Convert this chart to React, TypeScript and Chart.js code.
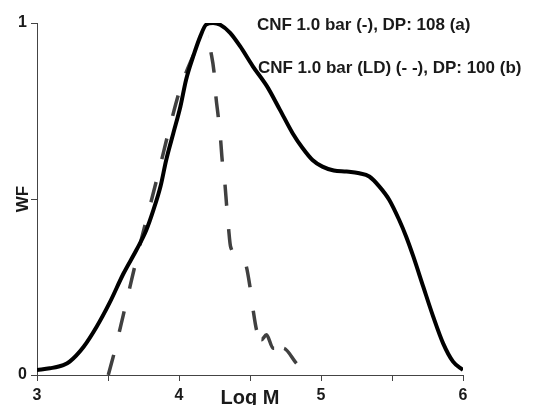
import React, { useEffect, useRef } from 'react';
import { Chart, registerables } from 'chart.js';

Chart.register(...registerables);

// Series (a): CNF 1.0 bar, solid line
const logMA = [3.0, 3.09, 3.185, 3.23, 3.33, 3.42, 3.51, 3.61, 3.7, 3.77, 3.82, 3.87, 3.91, 3.96, 4.01, 4.05, 4.1, 4.15, 4.19, 4.24, 4.29, 4.36, 4.43, 4.52, 4.62, 4.71, 4.8, 4.87, 4.94, 5.01, 5.09, 5.18, 5.27, 5.34, 5.41, 5.48, 5.55, 5.6, 5.65, 5.72, 5.79, 5.86, 5.93, 6.0];
const wfA = [0.014, 0.019, 0.028, 0.038, 0.081, 0.137, 0.204, 0.289, 0.355, 0.412, 0.469, 0.536, 0.611, 0.687, 0.763, 0.839, 0.905, 0.962, 0.995, 1.0, 0.995, 0.972, 0.934, 0.877, 0.82, 0.754, 0.687, 0.645, 0.611, 0.592, 0.581, 0.578, 0.573, 0.564, 0.536, 0.498, 0.441, 0.393, 0.337, 0.251, 0.166, 0.09, 0.038, 0.014];

// Series (b): CNF 1.0 bar (LD), dashed line
const logMB = [3.502, 3.549, 3.608, 3.666, 3.725, 3.795, 3.866, 3.936, 4.006, 4.077, 4.147, 4.206, 4.222, 4.246, 4.26, 4.276, 4.293, 4.304, 4.323, 4.335, 4.349, 4.363, 4.417, 4.471, 4.499, 4.522, 4.546, 4.581, 4.616, 4.663, 4.733, 4.827];
const wfB = [0.0, 0.071, 0.171, 0.27, 0.37, 0.479, 0.592, 0.706, 0.81, 0.886, 0.943, 0.962, 0.924, 0.863, 0.791, 0.735, 0.668, 0.611, 0.545, 0.483, 0.417, 0.365, 0.338, 0.313, 0.253, 0.185, 0.128, 0.1, 0.114, 0.076, 0.076, 0.033];

const xLabelTicks = [3, 4, 5, 6];
const yLabelTicks = [0, 1];
const labelA = 'CNF 1.0 bar (-), DP: 108 (a)';
const labelB = 'CNF 1.0 bar (LD) (- -), DP: 100 (b)';
const xTitle = 'Log M';
const yTitle = 'WF';

const FONT = "'Liberation Sans', Arial, Helvetica, sans-serif";
const TEXT = '#1a1a1a';
const AXIS = '#444444';
const DASH_COLOR = '#404040';
// dash rhythm of series (b) is re-phased at its (hidden) peak and at its tail
const PEAK_IDX = 11;
const TAIL_IDX = 26;

function toPoints(xs: number[], ys: number[]) {
  return xs.map((x, i) => ({ x, y: ys[i] }));
}

function dashFor(c: any) {
  if (c.p0DataIndex >= TAIL_IDX) return [23.5, 10, 20.5, 11.3];
  return [21, 23.5];
}
function dashOffsetFor(c: any) {
  if (c.p0DataIndex >= TAIL_IDX) return 54;
  if (c.p0DataIndex >= PEAK_IDX) return 28.5;
  return 0;
}

export default function App() {
  const ref = useRef<HTMLCanvasElement | null>(null);

  useEffect(() => {
    if (!ref.current) return;
    const annot = {
      id: 'annot',
      afterDraw(chart: any) {
        const ctx = chart.ctx;
        const xs = chart.scales.x;
        const ys = chart.scales.y;
        ctx.save();
        ctx.font = `bold 17px ${FONT}`;
        ctx.fillStyle = TEXT;
        ctx.textAlign = 'left';
        ctx.textBaseline = 'middle';
        ctx.fillText(labelA, xs.getPixelForValue(4.549), ys.getPixelForValue(0.994));
        ctx.fillText(labelB, xs.getPixelForValue(4.556), ys.getPixelForValue(0.872));
        ctx.restore();
      },
    };

    const chart = new Chart(ref.current, {
      type: 'line',
      data: {
        datasets: [
          {
            label: labelA,
            data: toPoints(logMA, wfA),
            borderColor: '#000000',
            borderWidth: 4,
            pointRadius: 0,
            cubicInterpolationMode: 'monotone',
            fill: false,
          },
          {
            label: labelB,
            data: toPoints(logMB, wfB),
            borderColor: DASH_COLOR,
            borderWidth: 3.5,
            borderDash: [21, 23.5],
            borderDashOffset: 0,
            pointRadius: 0,
            cubicInterpolationMode: 'monotone',
            fill: false,
            segment: {
              borderDash: dashFor,
              borderDashOffset: dashOffsetFor,
            },
          },
        ],
      },
      options: {
        animation: false,
        responsive: false,
        devicePixelRatio: 1,
        layout: { padding: { left: 0, top: 23, right: 88, bottom: 0 } },
        plugins: { legend: { display: false }, tooltip: { enabled: false } },
        scales: {
          x: {
            type: 'linear',
            min: 3,
            max: 6,
            afterFit(scale: any) { scale.height = 30; },
            ticks: {
              stepSize: 0.5,
              autoSkip: false,
              maxRotation: 0,
              minRotation: 0,
              padding: 5,
              color: TEXT,
              font: { family: FONT, size: 16, weight: 'bold' },
              callback: (v: any) => (xLabelTicks.includes(Number(v)) ? String(v) : ''),
            },
            grid: { drawOnChartArea: false, drawTicks: true, tickLength: 6, color: AXIS, lineWidth: 1 },
            border: { display: true, color: AXIS, width: 1 },
            title: {
              display: true,
              text: xTitle,
              color: TEXT,
              font: { family: FONT, size: 20, weight: 'bold' },
              padding: { top: 0, bottom: -5 },
            },
          },
          y: {
            type: 'linear',
            min: 0,
            max: 1,
            afterFit(scale: any) { scale.width = 37; },
            ticks: {
              stepSize: 0.5,
              padding: 4,
              color: TEXT,
              font: { family: FONT, size: 16, weight: 'bold' },
              callback: (v: any) => (yLabelTicks.includes(Number(v)) ? String(v) : ''),
            },
            grid: { drawOnChartArea: false, drawTicks: true, tickLength: 6, color: AXIS, lineWidth: 1 },
            border: { display: true, color: AXIS, width: 1 },
            title: {
              display: true,
              text: yTitle,
              color: TEXT,
              font: { family: FONT, size: 17, weight: 'bold' },
              padding: { top: 13, bottom: 0 },
            },
          },
        },
      },
      plugins: [annot],
    } as any);

    return () => chart.destroy();
  }, []);

  return (
    <div style={{ position: 'absolute', left: 0, top: 0, width: 551, height: 405, background: '#ffffff' }}>
      <canvas ref={ref} width={551} height={405} style={{ width: 551, height: 405, display: 'block' }} />
    </div>
  );
}
